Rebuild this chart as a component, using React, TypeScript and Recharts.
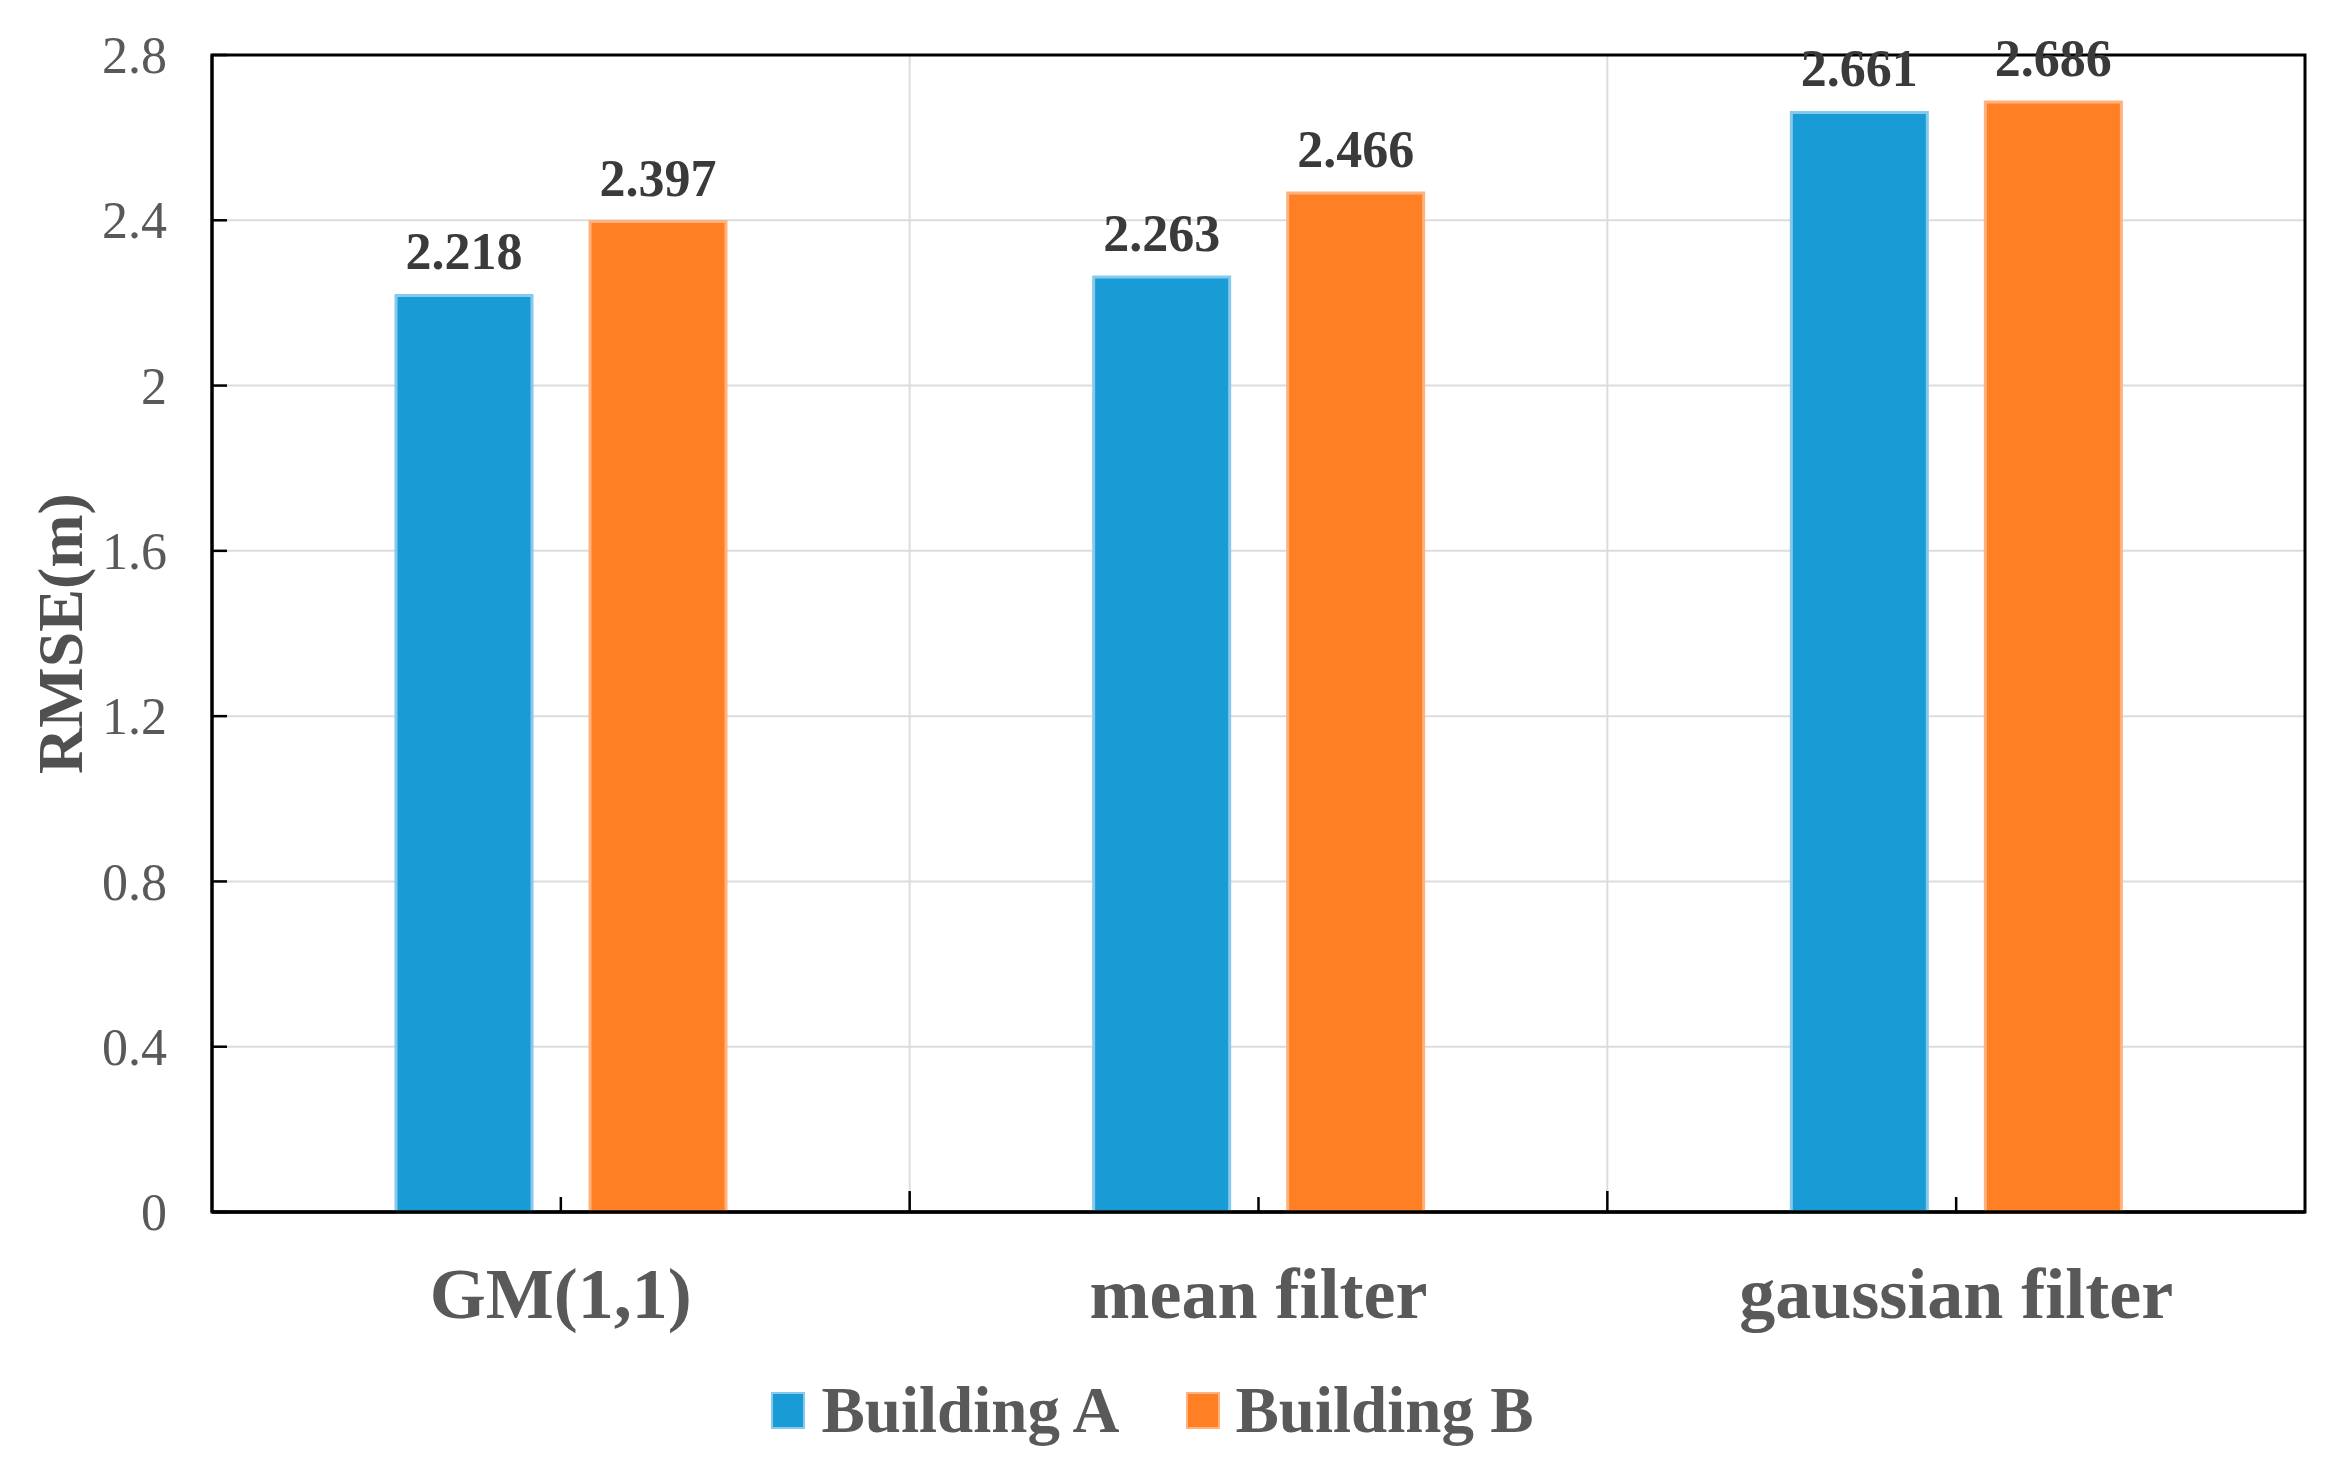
import { BarChart, Bar, XAxis, YAxis, CartesianGrid, Legend, LabelList, ReferenceArea } from 'recharts';

const categories = ['GM(1,1)', 'mean filter', 'gaussian filter'];
const buildingA = [2.218, 2.263, 2.661];
const buildingB = [2.397, 2.466, 2.686];
const yTicks = [0, 0.4, 0.8, 1.2, 1.6, 2, 2.4, 2.8];
const seriesNames = ['Building A', 'Building B'];

const data = categories.map((name, i) => ({ name, a: buildingA[i], b: buildingB[i] }));

const FONT = "'Liberation Serif', 'Times New Roman', serif";
const BLUE = '#199bd6';
const BLUE_EDGE = '#86c9ec';
const ORANGE = '#ff7f24';
const ORANGE_EDGE = '#ffb27d';
const TEXT = '#595959';

// category tick: short inward mark at the centre, longer mark at the boundary to the right, label below
const CategoryTick = (props: any) => {
  const { x, y, payload, width, visibleTicksCount, index } = props;
  const band = width / visibleTicksCount;
  const isLast = index === visibleTicksCount - 1;
  return (
    <g>
      <line x1={x} y1={y} x2={x} y2={y - 15} stroke="#000" strokeWidth={2.5} />
      {!isLast && <line x1={x + band / 2} y1={y} x2={x + band / 2} y2={y - 21} stroke="#000" strokeWidth={2.5} />}
      <text x={x} y={y} dy={106} textAnchor="middle" fontFamily={FONT} fontWeight="bold" fontSize={72} fill={TEXT}>
        {payload.value}
      </text>
    </g>
  );
};

const ValueTick = (props: any) => {
  const { x, y, payload } = props;
  return (
    <g>
      <line x1={x} y1={y} x2={x + 15} y2={y} stroke="#000" strokeWidth={2.5} />
      <text x={x - 45} y={y} dy="0.35em" textAnchor="end" fontFamily={FONT} fontSize={52} fill={TEXT}>
        {payload.value}
      </text>
    </g>
  );
};

const YTitle = (props: any) => {
  const { viewBox } = props;
  const cx = viewBox.x + 60;
  const cy = viewBox.y + viewBox.height / 2;
  return (
    <text
      x={cx}
      y={cy}
      transform={`rotate(-90, ${cx}, ${cy})`}
      textAnchor="middle"
      dominantBaseline="central"
      fontFamily={FONT}
      fontWeight="bold"
      fontSize={64}
      fill="#505050"
    >
      RMSE(m)
    </text>
  );
};

const LegendBox = () => {
  const items = [
    { label: seriesNames[0], fill: BLUE, edge: BLUE_EDGE },
    { label: seriesNames[1], fill: ORANGE, edge: ORANGE_EDGE },
  ];
  return (
    <div style={{ display: 'flex', justifyContent: 'center', alignItems: 'center', height: 90, gap: 66 }}>
      {items.map((it) => (
        <div key={it.label} style={{ display: 'flex', alignItems: 'center' }}>
          <div style={{ width: 30, height: 33, background: it.fill, border: `2px solid ${it.edge}` }} />
          <span style={{ marginLeft: 16, fontFamily: FONT, fontWeight: 'bold', fontSize: 65, color: TEXT }}>
            {it.label}
          </span>
        </div>
      ))}
    </div>
  );
};

// vertical grid lines on the boundaries between categories
const boundaryLines = ({ offset }: any) =>
  categories.slice(1).map((_, i) => offset.left + (offset.width * (i + 1)) / categories.length);

export default function App() {
  return (
    <div style={{ width: 2331, height: 1459, background: '#fff' }}>
      <style>{'body{margin:0}'}</style>
      <BarChart
        width={2331}
        height={1459}
        data={data}
        margin={{ top: 55, right: 26, left: 0, bottom: 4 }}
        barSize={136}
        barGap={58}
      >
        <XAxis
          dataKey="name"
          height={153}
          axisLine={{ stroke: '#000', strokeWidth: 3.5 }}
          tickLine={false}
          tickSize={0}
          tickMargin={0}
          tick={<CategoryTick />}
          interval={0}
        />
        <YAxis
          width={212}
          domain={[0, 2.8]}
          ticks={yTicks}
          axisLine={{ stroke: '#000', strokeWidth: 3 }}
          tickLine={false}
          tickSize={0}
          tickMargin={0}
          tick={<ValueTick />}
          interval={0}
          label={<YTitle />}
        />
        <CartesianGrid stroke="#dcdcdc" strokeWidth={2} verticalCoordinatesGenerator={boundaryLines} />
        <Legend verticalAlign="bottom" content={<LegendBox />} />
        <Bar dataKey="a" name={seriesNames[0]} fill={BLUE} stroke={BLUE_EDGE} strokeWidth={3} isAnimationActive={false}>
          <LabelList
            dataKey="a"
            position="top"
            offset={26}
            formatter={(v: any) => Number(v).toFixed(3)}
            style={{ fontFamily: FONT, fontWeight: 'bold', fontSize: 52, fill: '#3a3a3a' }}
          />
        </Bar>
        <Bar dataKey="b" name={seriesNames[1]} fill={ORANGE} stroke={ORANGE_EDGE} strokeWidth={3} isAnimationActive={false}>
          <LabelList
            dataKey="b"
            position="top"
            offset={26}
            formatter={(v: any) => Number(v).toFixed(3)}
            style={{ fontFamily: FONT, fontWeight: 'bold', fontSize: 52, fill: '#3a3a3a' }}
          />
        </Bar>
        <ReferenceArea y1={0} y2={2.8} fill="none" fillOpacity={0} stroke="#000" strokeWidth={3} />
      </BarChart>
    </div>
  );
}
